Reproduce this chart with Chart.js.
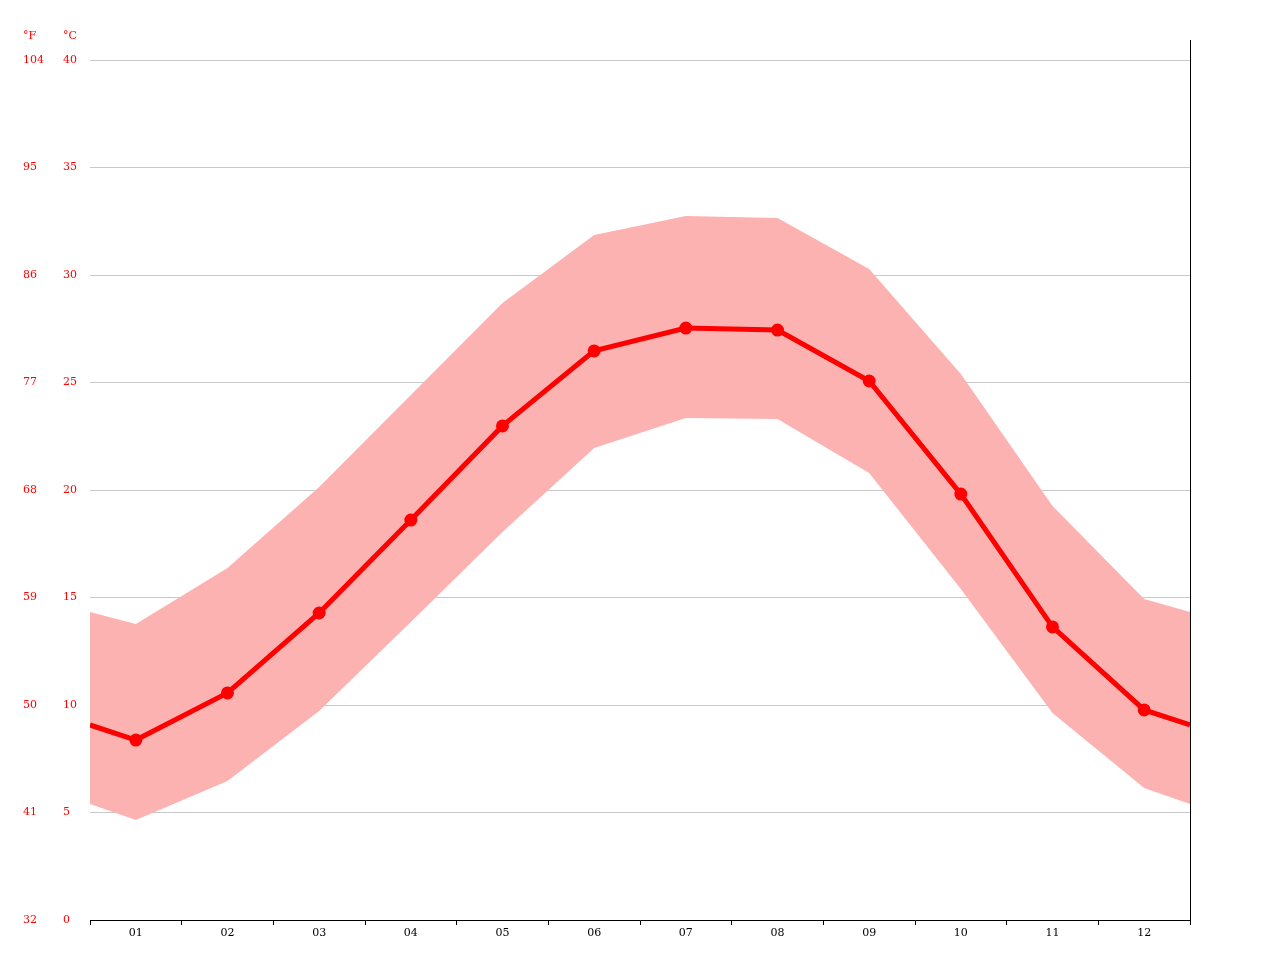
<!DOCTYPE html>
<html><head><meta charset="utf-8">
<script src="https://cdn.jsdelivr.net/npm/chart.js@4/dist/chart.umd.min.js"></script>
<style>html,body{margin:0;padding:0;background:#fff}#c{display:block}</style>
</head><body><canvas id="c" width="1280" height="960"></canvas>
<script>
const months = ["01","02","03","04","05","06","07","08","09","10","11","12"];
const meanC = [8.37,10.56,14.28,18.6,22.98,26.47,27.53,27.44,25.07,19.81,13.63,9.77];
const maxC = [13.77,16.37,20.14,24.42,28.7,31.86,32.74,32.65,30.28,25.4,19.26,14.93];
const minC = [4.65,6.47,9.72,13.86,18.05,21.95,23.35,23.3,20.79,15.4,9.63,6.14];
const edgeMean = 9.07, edgeMax = 14.33, edgeMin = 5.4;
const cTicks = [0,5,10,15,20,25,30,35,40];
const fTicks = ["32","41","50","59","68","77","86","95","104"];

function pts(arr, edge){
  const p=[{x:0,y:edge}];
  arr.forEach((v,i)=>p.push({x:i+0.5,y:v}));
  p.push({x:12,y:edge});
  return p;
}
const radii=[0].concat(months.map(()=>4)).concat([0]);
const FONT="'DejaVu Serif'";

const labelsPlugin={id:'lbl',afterDraw(ch){
  const c=ch.ctx, y=ch.scales.y, x=ch.scales.x;
  c.save();
  c.font="11px "+FONT; c.fillStyle="#ff0000"; c.textBaseline="middle";
  cTicks.forEach((v,i)=>{
    const py=y.getPixelForValue(v);
    c.textAlign="left"; c.fillText(fTicks[i],23,py);
    c.fillText(String(v),63,py);
  });
  c.fillText("°F",23,36); c.fillText("°C",63,36);
  // right border
  c.strokeStyle="#000"; c.lineWidth=1;
  c.beginPath(); c.moveTo(x.right+0.5,40); c.lineTo(x.right+0.5,y.bottom); c.stroke();
  c.restore();
}};

new Chart(document.getElementById('c'),{
  type:'line',
  data:{datasets:[
    {data:pts(meanC,edgeMean),borderColor:'#ff0000',backgroundColor:'#ff0000',borderWidth:5,pointRadius:radii,pointHoverRadius:0,fill:false,order:0,tension:0},
    {data:pts(maxC,edgeMax),borderWidth:0,pointRadius:0,backgroundColor:'#fdb2b2',fill:'+1',order:1},
    {data:pts(minC,edgeMin),borderWidth:0,pointRadius:0,backgroundColor:'#fdb2b2',fill:false,order:1}
  ]},
  options:{
    responsive:false,animation:false,
    layout:{padding:{left:90,right:90,top:60,bottom:0}},
    plugins:{legend:{display:false},tooltip:{enabled:false}},
    scales:{
      x:{type:'linear',min:0,max:12,
        afterBuildTicks(s){const t=[];for(let i=0;i<=24;i++)t.push({value:i/2});s.ticks=t;},
        afterFit(s){s.height=40;},
        grid:{drawOnChartArea:false,tickLength:5,color:(ctx)=>Number.isInteger(ctx.tick.value)?'#000':'rgba(0,0,0,0)'},
        border:{color:'#000'},
        ticks:{autoSkip:false,maxRotation:0,padding:2,color:'#000',font:{family:FONT,size:11},
          callback:(v)=>Number.isInteger(v)?'':months[Math.floor(v)]}},
      y:{min:0,max:40,
        afterBuildTicks(s){s.ticks=cTicks.map(v=>({value:v}));},
        afterFit(s){s.width=0;},
        ticks:{display:false},
        border:{display:false},
        grid:{color:'#c8c8c8',drawTicks:false}}
    }
  },
  plugins:[labelsPlugin]
});
</script></body></html>
